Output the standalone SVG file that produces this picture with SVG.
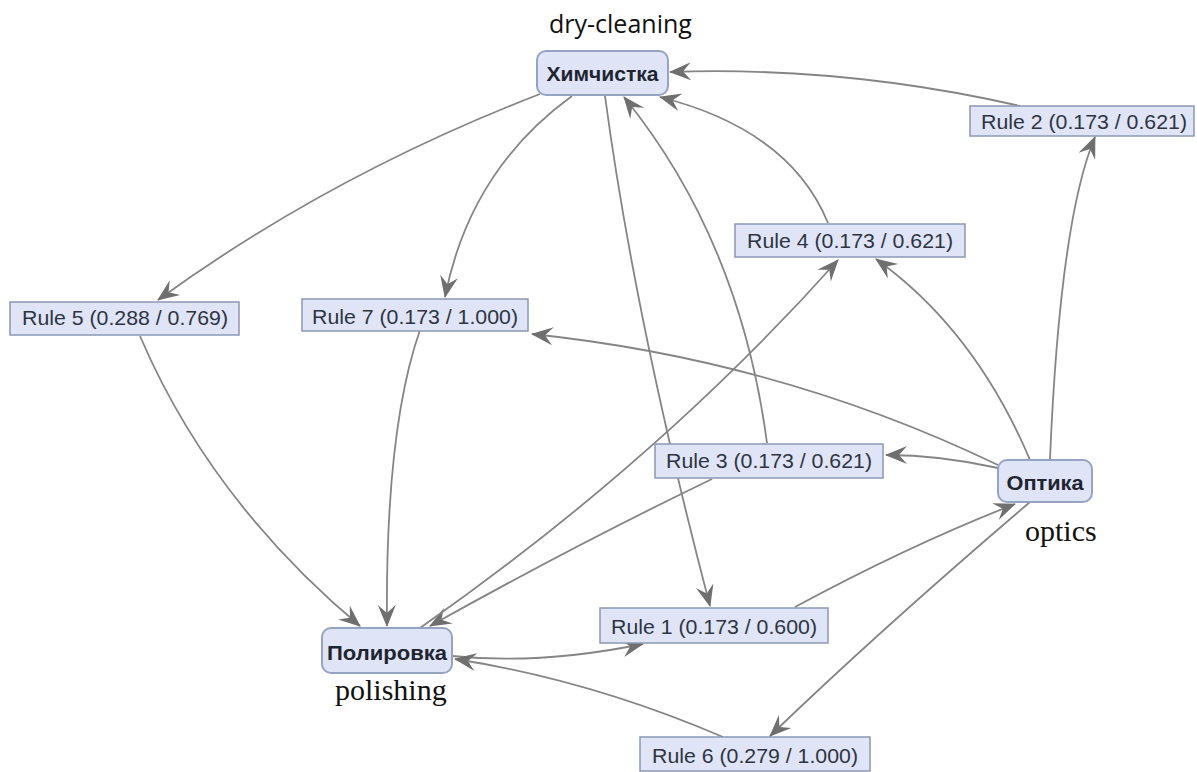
<svg xmlns="http://www.w3.org/2000/svg" width="1197" height="772" viewBox="0 0 1197 772">
<style>
.bg{fill:#ffffff}
.main rect{fill:#dfe5f6;stroke:#97a3c3;stroke-width:2}
.main text{font-family:"Liberation Sans",Arial,sans-serif;font-weight:bold;font-size:21px;fill:#1e2430;text-anchor:middle}
.rule rect{fill:#dfe5f6;stroke:#8c97b3;stroke-width:1.5}
.rule text{font-family:"Liberation Sans",Arial,sans-serif;font-size:21px;fill:#2e3442;text-anchor:middle}
.en{font-family:"Times New Roman","Liberation Serif",serif;font-size:30px;fill:#111}
.en2{font-family:"Open Sans",sans-serif;font-size:25px;fill:#111}
#connectors path{fill:none;stroke:#858585;stroke-width:1.8;marker-end:url(#arr)}
</style>
<defs>
<marker id="arr" markerUnits="userSpaceOnUse" markerWidth="22" markerHeight="20" viewBox="0 0 22 20" refX="21" refY="10" orient="auto">
<path d="M0,1 L22,10 L0,19 L8,10 Z" fill="#6f6f6f"/>
</marker>
</defs>
<rect class="bg" x="0" y="0" width="1197" height="772"/>
<g id="connectors">
<path d="M1020,106 Q845,66 670,72"/>
<path d="M1050,459 Q1060,220 1095,137"/>
<path d="M828,223 Q790,130 660,97"/>
<path d="M1030,460 Q975,330 876,259"/>
<path d="M998,465 Q780,360 532,334"/>
<path d="M998,468 Q940,455 886,455"/>
<path d="M767,443 Q740,240 624,97"/>
<path d="M605,96 Q635,320 710,606"/>
<path d="M572,96 Q470,170 445,297"/>
<path d="M540,94 Q330,175 158,300"/>
<path d="M140,336 Q210,500 360,626"/>
<path d="M420,330 Q385,430 387,626"/>
<path d="M712,479 Q575,545 430,626"/>
<path d="M420,628 Q660,460 838,260"/>
<path d="M795,607 Q910,545 1015,504"/>
<path d="M452,656 Q540,665 643,644"/>
<path d="M723,737 Q590,680 455,659"/>
<path d="M1030,502 Q880,630 770,736"/>
</g>
<g id="node-himchistka" class="main">
<rect x="537" y="51" width="131" height="44" rx="9"/>
<text x="602.5" y="81" textLength="112" lengthAdjust="spacingAndGlyphs">Химчистка</text>
</g>
<g id="node-optika" class="main">
<rect x="998" y="460" width="94" height="42" rx="9"/>
<text x="1045" y="490" textLength="77" lengthAdjust="spacingAndGlyphs">Оптика</text>
</g>
<g id="node-polirovka" class="main">
<rect x="322" y="628" width="130" height="45" rx="9"/>
<text x="387" y="660" textLength="120" lengthAdjust="spacingAndGlyphs">Полировка</text>
</g>
<g id="rule-2" class="rule">
<rect x="970" y="106" width="224" height="30"/>
<text x="1084" y="129" textLength="206" lengthAdjust="spacingAndGlyphs">Rule 2 (0.173 / 0.621)</text>
</g>
<g id="rule-5" class="rule">
<rect x="10" y="302" width="229" height="33"/>
<text x="125" y="325" textLength="206" lengthAdjust="spacingAndGlyphs">Rule 5 (0.288 / 0.769)</text>
</g>
<g id="rule-7" class="rule">
<rect x="302" y="299" width="226" height="32"/>
<text x="415" y="324" textLength="206" lengthAdjust="spacingAndGlyphs">Rule 7 (0.173 / 1.000)</text>
</g>
<g id="rule-4" class="rule">
<rect x="735" y="224" width="230" height="33"/>
<text x="850" y="248" textLength="206" lengthAdjust="spacingAndGlyphs">Rule 4 (0.173 / 0.621)</text>
</g>
<g id="rule-3" class="rule">
<rect x="655" y="444" width="228" height="34"/>
<text x="769" y="468" textLength="206" lengthAdjust="spacingAndGlyphs">Rule 3 (0.173 / 0.621)</text>
</g>
<g id="rule-1" class="rule">
<rect x="600" y="608" width="228" height="35"/>
<text x="714" y="634" textLength="206" lengthAdjust="spacingAndGlyphs">Rule 1 (0.173 / 0.600)</text>
</g>
<g id="rule-6" class="rule">
<rect x="640" y="737" width="230" height="34"/>
<text x="755" y="763" textLength="206" lengthAdjust="spacingAndGlyphs">Rule 6 (0.279 / 1.000)</text>
</g>
<text class="en2" x="549" y="33">dry-cleaning</text>
<text class="en" x="1025" y="541">optics</text>
<text class="en" x="335" y="700">polishing</text>
</svg>
